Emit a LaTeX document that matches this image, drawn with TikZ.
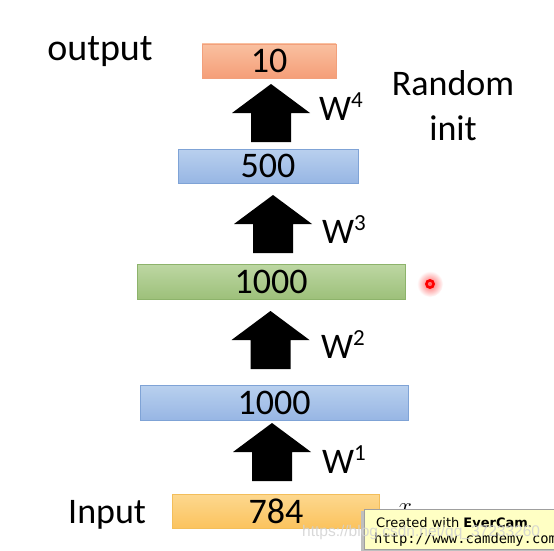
\documentclass[tikz,border=0pt]{standalone}
\usepackage{fontspec}
\setmainfont{Carlito}
\newfontfamily\evsans{DejaVu Sans}
\newfontfamily\evmono{DejaVu Sans Mono}
\newfontfamily\wmfont{Liberation Sans}
\definecolor{orT}{HTML}{F9C0A0}\definecolor{orB}{HTML}{F59E78}\definecolor{orD}{HTML}{F2A07C}
\definecolor{blT}{HTML}{B9D0EE}\definecolor{blB}{HTML}{97B6E4}\definecolor{blD}{HTML}{7FA3D6}
\definecolor{grT}{HTML}{BDD7A3}\definecolor{grB}{HTML}{9DC07A}\definecolor{grD}{HTML}{8DB36B}
\definecolor{yeT}{HTML}{FDD88F}\definecolor{yeB}{HTML}{FBC35E}\definecolor{yeD}{HTML}{F3BE5A}
\definecolor{evY}{HTML}{FFFFC4}
\begin{document}
\begin{tikzpicture}[x=1pt,y=-1pt,
  big/.style={font=\fontsize{36}{42}\selectfont},
  layer/.style={draw=#1D, line width=0.8pt, top color=#1T, bottom color=#1B},
  wlab/.style={big, anchor=base west, inner sep=0pt}]
\useasboundingbox (0,0) rectangle (554,551);
\fill[white] (0,0) rectangle (554,551);
% layers
\path[layer=or] (202,44) rectangle (336,78);
\node[big] (l4) at (269,61) {10};
\path[layer=bl] (178,149) rectangle (358,183);
\node[big] (l3) at (268,166) {500};
\path[layer=gr] (137,264) rectangle (405,299);
\node[big] (l2) at (271,281.5) {1000};
\path[layer=bl] (140,385) rectangle (408,420);
\node[big] (l1) at (274,402.5) {1000};
\path[layer=ye] (172,494) rectangle (379,528);
\node[big] (l0) at (276,511) {784};
% block arrows
\newcommand\blockarrow[2]{\fill[black] (#1,#2) -- ++(39,29) -- ++(-19,0) -- ++(0,29) -- ++(-40,0) -- ++(0,-29) -- ++(-19,0) -- cycle;}
\blockarrow{271}{84}
\blockarrow{273}{195}
\blockarrow{270.5}{311}
\blockarrow{272}{423}
% weight labels
\node[wlab] (w4) at (319,120) {W\raisebox{13pt}{\fontsize{23}{25}\selectfont 4}};
\node[wlab] (w3) at (322,243) {W\raisebox{13pt}{\fontsize{23}{25}\selectfont 3}};
\node[wlab] (w2) at (321,358) {W\raisebox{13pt}{\fontsize{23}{25}\selectfont 2}};
\node[wlab] (w1) at (322,473) {W\raisebox{13pt}{\fontsize{23}{25}\selectfont 1}};
% side labels
\node[font=\fontsize{38}{42}\selectfont, anchor=base, inner sep=0pt] (out) at (100,60) {output};
\node[align=center, font=\fontsize{36}{45}\selectfont] (ri) at (453,106) {Random\\init};
\node[big, anchor=base west, inner sep=0pt] (inp) at (68,523) {Input};
\node[font=\fontsize{32}{32}\selectfont, inner sep=0pt] (xx) at (405,509) {$x$};
% pointer dot
\shade[inner color=red!60, outer color=white] (430,284) circle (13);
\draw[red, line width=2.6pt] (430,284) circle (3.6);
% EverCam box
\fill[gray!50] (361,511) rectangle (556,553);
\draw[gray!75, fill=evY, line width=0.8pt] (364,509) rectangle (560,549);
\node[anchor=base west, inner sep=0pt, font=\evsans\fontsize{13}{14}\selectfont] (ev1) at (376,527) {Created with \textbf{EverCam}.};
\node[anchor=base west, inner sep=0pt, font=\evmono\fontsize{13.8}{14}\selectfont] (ev2) at (374,543) {http://www.camdemy.com};
% watermark
\node[white!65!gray, opacity=0.85, font=\wmfont\fontsize{15.5}{17}\selectfont, anchor=base west, inner sep=0pt] (wm) at (302,536) {https://blog.csdn.net/qq\_37233260};
\end{tikzpicture}
\end{document}
